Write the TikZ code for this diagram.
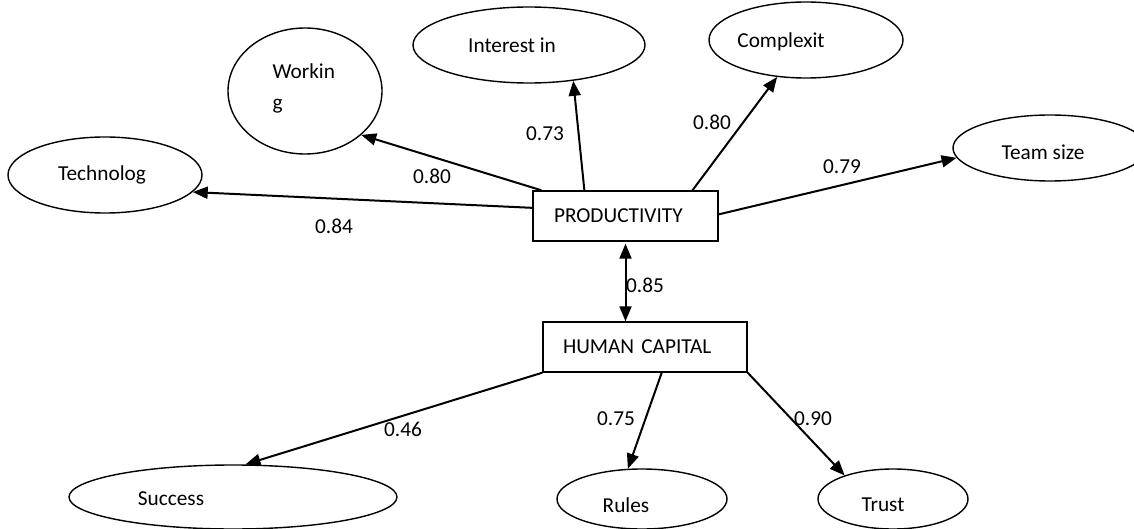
\documentclass[tikz,border=0pt]{standalone}
\usepackage{fontspec}
\setmainfont{Carlito}
\usetikzlibrary{shapes.geometric,arrows.meta}
\begin{document}
\begin{tikzpicture}
  [x=1pt,y=-1pt,every node/.style={font=\fontsize{21.3}{31}\selectfont},
   latent/.style={ellipse,draw,line width=1.4pt,inner sep=0pt},
   factor/.style={rectangle,draw,line width=1.4pt,minimum height=50pt,align=left},
   load/.style={-{Triangle[length=15pt,width=12pt]},line width=2pt},
   cov/.style={{Triangle[length=15pt,width=12pt]}-{Triangle[length=15pt,width=12pt]},line width=2pt}]
  \useasboundingbox (0,0) rectangle (1134,529);
  % factors
  \node (prod)[factor,inner xsep=21pt,text width=143pt] at (625.5,216) {PRODUCTIVITY};
  \node (hc)[factor,inner xsep=20pt,text width=164pt] at (645,347) {HUMAN CAPITAL};
  % indicators
  \node (tech)[latent,minimum width=194pt,minimum height=76pt] at (105,175) {};
  \node (work)[latent,minimum width=154pt,minimum height=126pt] at (305,91) {};
  \node (int)[latent,minimum width=232pt,minimum height=76pt] at (529,45) {};
  \node (comp)[latent,minimum width=194pt,minimum height=76pt] at (806,40) {};
  \node (team)[latent,minimum width=194pt,minimum height=66pt] at (1050,148) {};
  \node (succ)[latent,minimum width=328pt,minimum height=64pt] at (233,497) {};
  \node (rules)[latent,minimum width=170pt,minimum height=60pt] at (642,499) {};
  \node (trust)[latent,minimum width=150pt,minimum height=60pt] at (893,499) {};
  % texts in the ovals
  \node (techtxt) at (102,175) {Technolog};
  \node (worktxt)[anchor=west,align=left] at (269,88) {Workin\\g};
  \node (inttxt) at (512,45) {Interest in};
  \node (comptxt) at (781,42) {Complexit};
  \node (teamtxt) at (1043,152) {Team size};
  \node (succtxt) at (171,499) {Success};
  \node (rulestxt) at (626,505) {Rules};
  \node (trusttxt) at (883,505) {Trust};
  % loadings
  \foreach \name/\x/\y/\val in {l1/334/226/0.84,l2/432/176/0.80,l3/545/134/0.73,
      l4/712/122/0.80,l5/842/167/0.79,l6/645/285/0.85,l7/403/429/0.46,
      l8/616/419/0.75,l9/813/419/0.90}
    \node (\name) at (\x,\y) {\val};
  \foreach \from/\to in {prod.175/tech.-11,prod.163/work.-38,prod.148/int.-39,
      prod.21/comp.-128,prod.1/team.186,hc.south west/succ.69,hc.-57/rules.115,
      hc.south east/trust.154}
    \draw[load] (\from) -- (\to);
  \draw[cov,shorten <=2pt] (prod.south) -- (prod.south |- hc.north);
\end{tikzpicture}
\end{document}
